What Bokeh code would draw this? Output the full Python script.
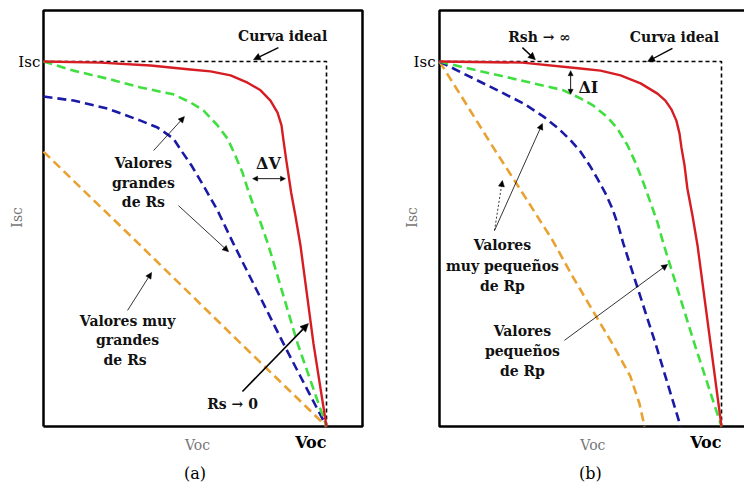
import math
from bokeh.plotting import figure
from bokeh.models import Range1d, Arrow, NormalHead
from bokeh.layouts import row
from bokeh.core.properties import value
from bokeh.embed import file_html
from bokeh.resources import INLINE

FONT = "DejaVu Serif"

# ---------------- Panel (a): effect of series resistance Rs ----------------
ideal_x = [0.0, 1.0, 1.0]
ideal_y = [1.0, 1.0, 0.0]

a_red_x = [0, 0.201, 0.378, 0.519, 0.590, 0.661, 0.721, 0.767, 0.802, 0.827, 0.841, 0.848,
           0.857, 0.866, 0.875, 0.890, 0.908, 0.954, 1.0]
a_red_y = [1, 0.997, 0.989, 0.978, 0.973, 0.962, 0.942, 0.921, 0.893, 0.860, 0.825, 0.784,
           0.734, 0.688, 0.641, 0.578, 0.496, 0.227, 0.0]

a_green_x = [0, 0.106, 0.226, 0.343, 0.459, 0.519, 0.565, 0.615, 0.650, 0.678, 0.703, 0.721,
             0.742, 0.767, 0.795, 0.898, 1.0]
a_green_y = [1, 0.975, 0.953, 0.929, 0.910, 0.888, 0.866, 0.825, 0.789, 0.742, 0.696, 0.652,
             0.605, 0.559, 0.496, 0.227, 0.0]

a_blue_x = [0, 0.106, 0.226, 0.343, 0.403, 0.459, 0.491, 0.523, 0.565, 0.615, 0.671, 0.848,
            0.908, 1.0]
a_blue_y = [0.904, 0.893, 0.871, 0.838, 0.819, 0.789, 0.751, 0.715, 0.660, 0.592, 0.501, 0.227,
            0.137, 0.0]

a_orange_x = [0, 0.336, 0.686, 1.0]
a_orange_y = [0.753, 0.501, 0.236, 0.0]

# ---------------- Panel (b): effect of shunt resistance Rp ----------------
b_red_x = [0, 0.294, 0.500, 0.571, 0.642, 0.713, 0.773, 0.801, 0.823, 0.840, 0.851, 0.858,
           0.869, 0.879, 0.897, 0.915, 1.0]
b_red_y = [1, 0.997, 0.981, 0.975, 0.962, 0.940, 0.912, 0.893, 0.868, 0.838, 0.803, 0.764,
           0.715, 0.652, 0.578, 0.496, 0.0]

b_green_x = [0, 0.085, 0.262, 0.440, 0.500, 0.546, 0.596, 0.631, 0.667, 0.695, 0.723, 0.748,
             0.773, 0.794, 0.904, 1.0]
b_green_y = [1, 0.984, 0.953, 0.921, 0.899, 0.879, 0.847, 0.816, 0.770, 0.723, 0.668, 0.614,
             0.559, 0.501, 0.227, 0.0]

b_blue_x = [0, 0.085, 0.206, 0.298, 0.369, 0.422, 0.465, 0.500, 0.532, 0.560, 0.589, 0.613,
            0.635, 0.652, 0.766, 0.855]
b_blue_y = [1, 0.967, 0.921, 0.885, 0.849, 0.816, 0.784, 0.753, 0.716, 0.679, 0.638, 0.597,
            0.548, 0.501, 0.227, 0.0]

b_orange_x = [0, 0.087, 0.191, 0.305, 0.401, 0.472, 0.543, 0.613, 0.677, 0.709, 0.727]
b_orange_y = [1, 0.893, 0.764, 0.627, 0.510, 0.411, 0.318, 0.227, 0.137, 0.063, 0.0]

tick_x_label = "Voc"
tick_y_label = "Isc"
panel_labels = ["(a)", "(b)"]

# annotation texts
a_texts_x = [0.845, 0.353, 0.353, 0.353, 0.297, 0.297, 0.297, 0.668]
a_texts_y = [1.071, 0.721, 0.666, 0.614, 0.288, 0.236, 0.181, 0.063]
a_texts = ["Curva ideal", "Valores", "grandes", "de Rs",
           "Valores muy", "grandes", "de  Rs", "Rs → 0"]
a_delta_x, a_delta_y, a_delta = [0.795], [0.721], ["ΔV"]

b_texts_x = [0.355, 0.833, 0.223, 0.223, 0.223, 0.294, 0.294, 0.294]
b_texts_y = [1.066, 1.066, 0.496, 0.441, 0.386, 0.263, 0.208, 0.153]
b_texts = ["Rsh → ∞", "Curva ideal", "Valores", "muy pequeños", "de Rp",
           "Valores", "pequeños", "de Rp"]
b_delta_x, b_delta_y, b_delta = [0.528], [0.929], ["ΔI"]

# arrows: (x_start, y_start, x_end, y_end, width, head_size, dash, double)
a_arrows = [
    (0.830, 1.038, 0.742, 1.005, 1.4, 7, "solid", False),
    (0.389, 0.756, 0.498, 0.849, 0.8, 6, "solid", False),
    (0.477, 0.605, 0.654, 0.479, 0.8, 6, "solid", False),
    (0.739, 0.679, 0.855, 0.679, 0.9, 5, "solid", True),
    (0.297, 0.318, 0.382, 0.422, 0.8, 6, "solid", False),
    (0.703, 0.096, 0.936, 0.282, 1.6, 8, "solid", False),
]
b_arrows = [
    (0.294, 1.038, 0.340, 1.005, 1.4, 7, "solid", False),
    (0.826, 1.036, 0.738, 1.000, 1.4, 7, "solid", False),
    (0.465, 0.975, 0.465, 0.910, 0.9, 5, "solid", True),
    (0.195, 0.537, 0.223, 0.674, 0.8, 6, "2 2", False),
    (0.195, 0.537, 0.365, 0.830, 0.8, 6, "solid", False),
    (0.443, 0.236, 0.809, 0.444, 0.8, 6, "solid", False),
]

RED = "#d61d24"
GREEN = "#3fdf3f"
BLUE = "#1a1aa6"
ORANGE = "#e9a232"
GRAY = "#777777"


def make_panel(width, x_px_left, x_px_unit, box_right, draw_right_side, curves,
               texts_x, texts_y, texts, dx, dy, dtext, arrows, plabel, ylab_x, isc_x):
    # the whole canvas is the data frame; the box is drawn explicitly
    y_unit = 365.0
    y_bottom_px = 426.0
    height = 486
    x_start = -x_px_left / x_px_unit
    x_end = (width - x_px_left) / x_px_unit
    y_start = -(height - y_bottom_px) / y_unit
    y_end = y_bottom_px / y_unit
    p = figure(output_backend="svg", toolbar_location=None,
               x_range=Range1d(x_start, x_end), y_range=Range1d(y_start, y_end),
               width=width, height=height, min_border=0)
    p.axis.visible = False
    p.grid.visible = False
    p.outline_line_color = None
    p.background_fill_color = "white"
    p.border_fill_color = "white"

    top = 1.14
    if draw_right_side:
        p.line([0, 0, box_right, box_right, 0], [0, top, top, 0, 0],
               line_color="black", line_width=2.5)
    else:
        p.line([box_right, 0, 0, box_right], [top, top, 0, 0],
               line_color="black", line_width=2.5)

    # ideal curve
    p.line(ideal_x, ideal_y, line_color="black", line_width=1.6, line_dash="4 3")
    for (cx, cy, col, dash, w) in curves:
        p.line(cx, cy, line_color=col, line_width=w, line_dash=dash, line_join="round")

    p.text(x=texts_x, y=texts_y, text=texts, text_font=value(FONT),
           text_font_style="bold", text_font_size="14px",
           text_align="center", text_baseline="middle", text_color="#111111")
    p.text(x=dx, y=dy, text=dtext, text_font=value(FONT),
           text_font_style="bold", text_font_size="16px",
           text_align="center", text_baseline="middle", text_color="#111111")

    for (xs, ys, xe, ye, w, hs, dash, dbl) in arrows:
        end = NormalHead(size=hs, fill_color="black", line_color="black", line_width=0.5)
        start = NormalHead(size=hs, fill_color="black", line_color="black",
                           line_width=0.5) if dbl else None
        p.add_layout(Arrow(x_start=xs, y_start=ys, x_end=xe, y_end=ye, end=end, start=start,
                           line_color="black", line_width=w, line_dash=dash))

    # tick-like labels
    p.text(x=[isc_x], y=[1.0], text=[tick_y_label], text_font=value(FONT),
           text_font_size="15px", text_align="right", text_baseline="middle",
           text_color="black")
    p.text(x=[1.0], y=[-0.044], text=[tick_x_label], text_font=value(FONT),
           text_font_style="bold", text_font_size="16px", text_align="right",
           text_baseline="middle", text_color="black")
    # gray axis titles
    p.text(x=[0.544], y=[-0.052], text=[tick_x_label], text_font=value(FONT),
           text_font_size="14px", text_align="center", text_baseline="middle",
           text_color=GRAY)
    p.text(x=[ylab_x], y=[0.573], text=[tick_y_label], text_font=value(FONT),
           text_font_size="14px", text_align="center", text_baseline="middle",
           text_color=GRAY, angle=math.pi / 2)
    # panel label
    p.text(x=[0.535], y=[-0.129], text=[plabel], text_font=value(FONT),
           text_font_size="16px", text_align="center", text_baseline="middle",
           text_color="black")
    return p


DASH = "9 5"
curves_a = [
    (a_orange_x, a_orange_y, ORANGE, DASH, 2.6),
    (a_blue_x, a_blue_y, BLUE, DASH, 2.6),
    (a_green_x, a_green_y, GREEN, DASH, 2.6),
    (a_red_x, a_red_y, RED, "solid", 2.4),
]
curves_b = [
    (b_orange_x, b_orange_y, ORANGE, DASH, 2.6),
    (b_blue_x, b_blue_y, BLUE, DASH, 2.6),
    (b_green_x, b_green_y, GREEN, DASH, 2.6),
    (b_red_x, b_red_y, RED, "solid", 2.4),
]

pa = make_panel(376, 43.0, 283.0, 1.1272, True, curves_a, a_texts_x, a_texts_y, a_texts,
                a_delta_x, a_delta_y, a_delta, a_arrows, panel_labels[0], -0.092, -0.011)
pb = make_panel(368, 63.0, 282.0, 1.0816, False, curves_b, b_texts_x, b_texts_y, b_texts,
                b_delta_x, b_delta_y, b_delta, b_arrows, panel_labels[1], -0.096, -0.014)

layout = row(pa, pb)
open("out.html", "w").write(file_html(layout, INLINE))
